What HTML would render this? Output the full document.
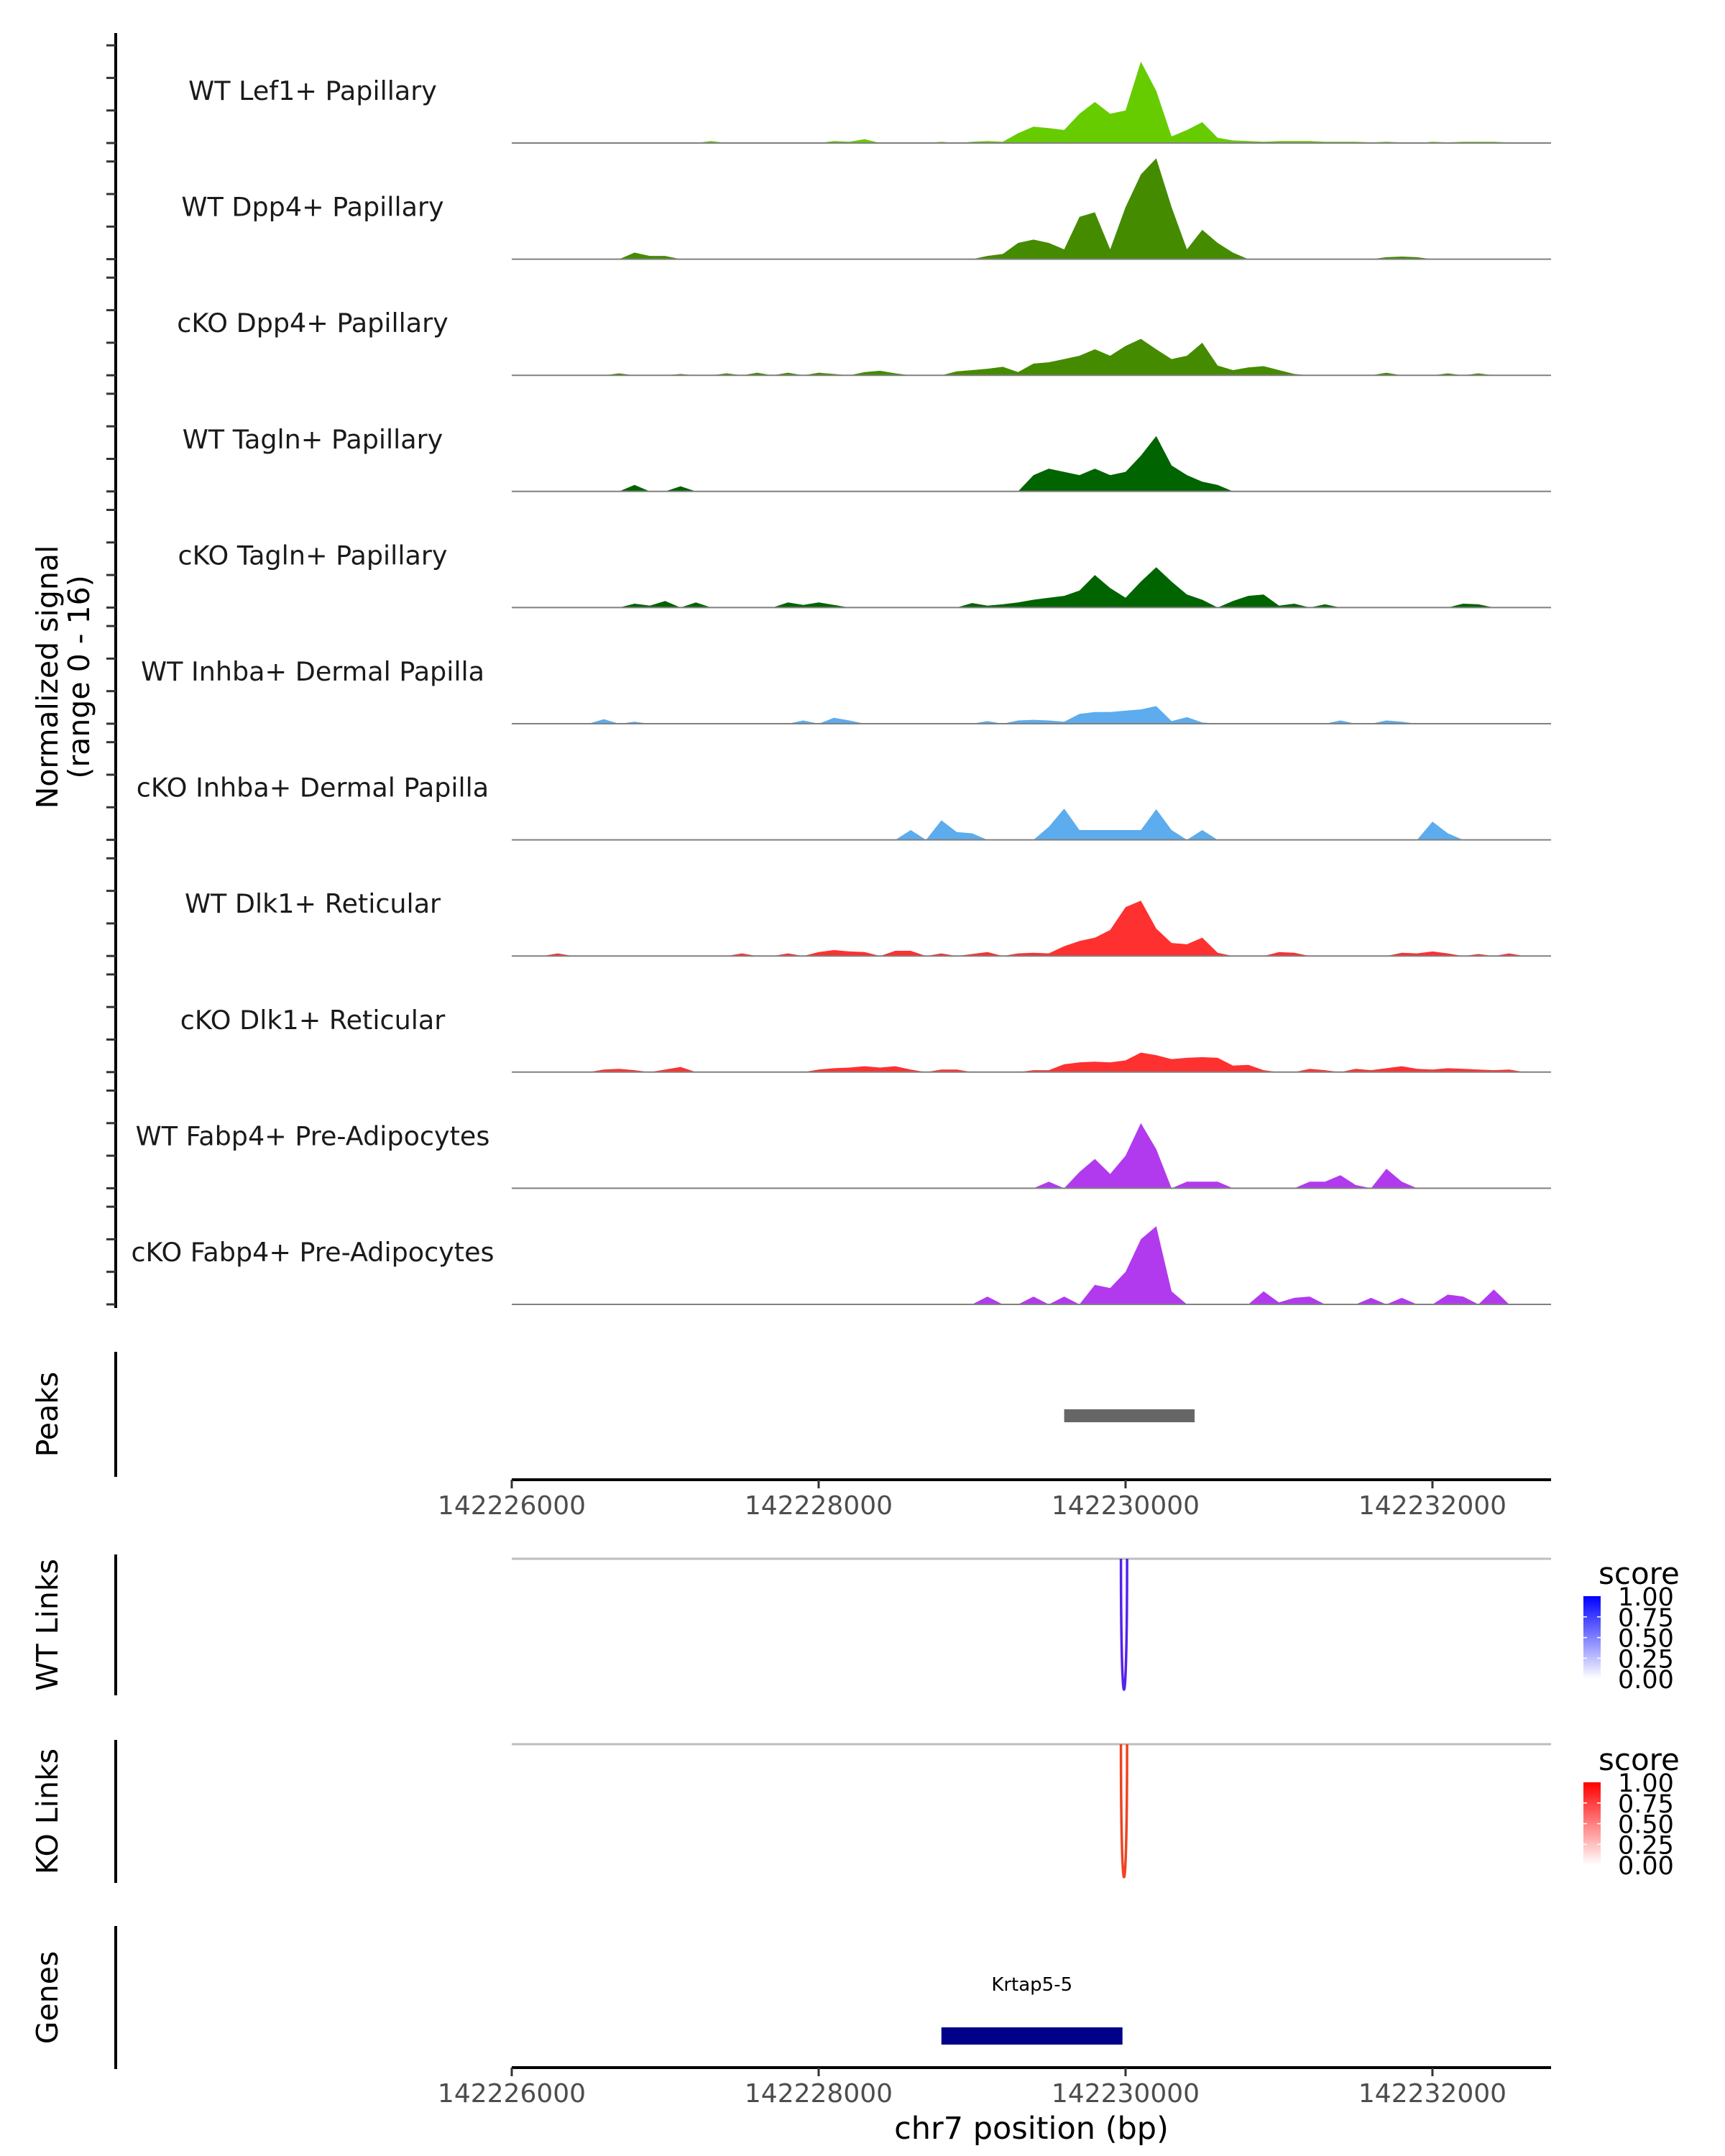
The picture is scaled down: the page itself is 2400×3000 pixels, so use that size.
<!DOCTYPE html>
<html><head><meta charset="utf-8"><style>
body{margin:0;background:#fff}
svg{display:block;font-family:"DejaVu Sans","Liberation Sans",sans-serif}
</style></head><body>
<svg id="chart" width="2400" height="3000" viewBox="0 0 2400 3000" xmlns="http://www.w3.org/2000/svg"></svg>
<script>
const trackNames=["WT Lef1+ Papillary","WT Dpp4+ Papillary","cKO Dpp4+ Papillary","WT Tagln+ Papillary","cKO Tagln+ Papillary","WT Inhba+ Dermal Papilla","cKO Inhba+ Dermal Papilla","WT Dlk1+ Reticular","cKO Dlk1+ Reticular","WT Fabp4+ Pre-Adipocytes","cKO Fabp4+ Pre-Adipocytes"];
const trackColors=["#66CC00","#458B00","#458B00","#006400","#006400","#5CACEE","#5CACEE","#FF3030","#FF3030","#B23AEE","#B23AEE"];
const binStart=142226000, binSize=100;
function sp(o){const a=new Array(68).fill(0);for(const k in o)a[+k]=o[k];return a;}
const sigLef1WT=sp({3:0.1,13:0.3,21:0.3,22:0.2,23:0.6,28:0.2,30:0.2,31:0.3,32:0.2,33:1.5,34:2.5,35:2.3,36:2.0,37:4.5,38:6.3,39:4.5,40:5.0,41:12.5,42:8,43:1,44:2,45:3.2,46:0.8,47:0.4,48:0.3,49:0.2,50:0.3,51:0.3,52:0.3,53:0.2,54:0.2,55:0.2,56:0.1,57:0.2,58:0.1,60:0.2,61:0.1,62:0.2,63:0.2,64:0.2,65:0.1});
const sigDpp4WT=sp({8:1.0,9:0.5,10:0.5,31:0.5,32:0.8,33:2.5,34:3,35:2.5,36:1.5,37:6.5,38:7.2,39:1.5,40:8,41:13,42:15.5,43:8,44:1.5,45:4.5,46:2.5,47:1,57:0.3,58:0.4,59:0.3});
const sigDpp4KO=sp({7:0.3,11:0.2,14:0.3,16:0.4,18:0.4,20:0.4,21:0.2,23:0.5,24:0.7,25:0.3,29:0.6,30:0.8,31:1.0,32:1.3,33:0.5,34:1.8,35:2.0,36:2.5,37:3.0,38:4.0,39:3,40:4.5,41:5.6,42:4,43:2.5,44:3.0,45:5,46:1.5,47:0.8,48:1.2,49:1.4,50:0.8,51:0.2,57:0.4,61:0.3,63:0.3});
const sigTaglnWT=sp({8:1.0,11:0.8,34:2.5,35:3.5,36:3,37:2.5,38:3.5,39:2.5,40:3,41:5.5,42:8.5,43:4,44:2.5,45:1.5,46:1});
const sigTaglnKO=sp({8:0.6,9:0.3,10:1.0,12:0.8,18:0.8,19:0.4,20:0.8,21:0.4,30:0.7,31:0.3,32:0.5,33:0.8,34:1.2,35:1.5,36:1.8,37:2.6,38:5,39:3,40:1.5,41:4,42:6.2,43:4,44:2,45:1.2,47:1.0,48:1.8,49:2,50:0.3,51:0.6,53:0.5,62:0.6,63:0.5});
const sigInhbaWT=sp({6:0.7,8:0.3,19:0.5,21:0.9,22:0.5,31:0.4,33:0.5,34:0.6,35:0.5,36:0.3,37:1.5,38:1.8,39:1.8,40:2.0,41:2.2,42:2.7,43:0.4,44:1.0,45:0.2,54:0.5,57:0.5,58:0.3});
const sigInhbaKO=sp({26:1.5,28:3.0,29:1.2,30:1.0,35:2,36:4.8,37:1.5,38:1.5,39:1.5,40:1.5,41:1.5,42:4.7,43:1.5,45:1.5,60:2.8,61:1});
const sigDlk1WT=sp({3:0.4,15:0.4,18:0.4,20:0.6,21:0.9,22:0.7,23:0.6,25:0.8,26:0.8,28:0.4,30:0.3,31:0.6,33:0.4,34:0.5,35:0.4,36:1.5,37:2.3,38:2.8,39:4,40:7.5,41:8.5,42:4.2,43:2,44:1.8,45:2.8,46:0.5,50:0.6,51:0.5,58:0.5,59:0.4,60:0.7,61:0.4,63:0.3,65:0.4});
const sigDlk1KO=sp({6:0.4,7:0.5,8:0.3,10:0.4,11:0.8,20:0.4,21:0.6,22:0.7,23:0.9,24:0.7,25:0.9,26:0.4,28:0.4,29:0.4,34:0.3,35:0.3,36:1.2,37:1.5,38:1.6,39:1.5,40:1.8,41:3.0,42:2.6,43:2.0,44:2.2,45:2.3,46:2.2,47:1,48:1.1,49:0.3,52:0.5,53:0.3,55:0.5,56:0.3,57:0.6,58:0.9,59:0.5,60:0.4,61:0.6,62:0.5,63:0.4,64:0.3,65:0.4});
const sigFabp4WT=sp({35:1,37:2.5,38:4.5,39:2.2,40:5,41:10,42:6,44:1,45:1,46:1,52:1,53:1,54:2,55:0.5,57:3,58:1});
const sigFabp4KO=sp({31:1.2,34:1.2,36:1.2,38:3,39:2.5,40:5,41:10,42:12,43:2,49:2,50:0.3,51:1,52:1.2,56:1,58:1,61:1.5,62:1.2,64:2.3});
const signals=[sigLef1WT,sigDpp4WT,sigDpp4KO,sigTaglnWT,sigTaglnKO,sigInhbaWT,sigInhbaKO,sigDlk1WT,sigDlk1KO,sigFabp4WT,sigFabp4KO];
const xTicks=[142226000,142228000,142230000,142232000];
const peakRanges=[[142229600,142230450]];
const wtLinks=[[142229970,142230010,1.0]];
const koLinks=[[142229970,142230010,0.9]];
const genes=[{name:"Krtap5-5",start:142228800,end:142229980}];
const legendTicks=["1.00","0.75","0.50","0.25","0.00"];

const NS="http://www.w3.org/2000/svg";
const svg=document.getElementById("chart");
const X0=712,X1=2158,D0=142226000,D1=142232773;
const xs=bp=>X0+(bp-D0)*(X1-X0)/(D1-D0);
const ys=v=>v*9.06;
function el(tag,attrs,parent,text){const e=document.createElementNS(NS,tag);for(const k in attrs)e.setAttribute(k,attrs[k]);if(text!==undefined)e.textContent=text;(parent||svg).appendChild(e);return e;}

let ax=el("line",{x1:161,x2:161,y1:46,y2:1820,stroke:"#000","stroke-width":4});


const t0=el("text",{x:0,y:0,transform:"translate(80,942) rotate(-90)","text-anchor":"middle","font-size":41},svg,"Normalized signal");


const t1=el("text",{x:0,y:0,transform:"translate(124,942) rotate(-90)","text-anchor":"middle","font-size":41},svg,"(range 0 - 16)");



trackNames.forEach((nm,ti)=>{
  const base=199+ti*161.6;
  const g=el("g",{});
  
  
  [0,5,10,15].forEach(v=>{const tk=el("line",{x1:148,x2:161,y1:base-ys(v),y2:base-ys(v),stroke:"#333","stroke-width":3},g);
    
    });
  const d=signals[ti];
  let p="M"+xs(binStart)+","+base;
  d.forEach((v,i)=>{p+=" L"+xs(binStart+i*binSize).toFixed(1)+","+(base-ys(v)).toFixed(1);});
  p+=" L"+xs(binStart+(d.length-1)*binSize)+","+base+" Z";
  const a=el("path",{d:p,fill:trackColors[ti]},g);
  
  
  const bl=el("line",{x1:X0,x2:X1,y1:base,y2:base,stroke:"#808080","stroke-width":2},g);
  
  
  const lb=el("text",{x:435,y:base-60,"text-anchor":"middle","font-size":36.5,fill:"#1a1a1a"},g,nm);
  
  
});

function sideAxis(y1,y2,label,name){
  const l=el("line",{x1:161,x2:161,y1:y1,y2:y2,stroke:"#000","stroke-width":4});
  
  
  const t=el("text",{x:0,y:0,transform:`translate(80,${(y1+y2)/2}) rotate(-90)`,"text-anchor":"middle","font-size":41},svg,label);
  
  
}
function xAxis(y,name){
  const g=el("g",{});
  
  
  el("line",{x1:X0,x2:X1,y1:y,y2:y,stroke:"#000","stroke-width":4},g);
  xTicks.forEach(t=>{el("line",{x1:xs(t),x2:xs(t),y1:y,y2:y+12,stroke:"#333","stroke-width":3},g);
    const tl=el("text",{x:xs(t),y:y+48,"text-anchor":"middle","font-size":36,fill:"#4d4d4d"},g,String(t));
    
    });
}
sideAxis(1881,2055,"Peaks","peaks");
peakRanges.forEach(r=>{const b=el("rect",{x:xs(r[0]),y:1961,width:xs(r[1])-xs(r[0]),height:18,fill:"#666"});
  
  });
xAxis(2059,"peaks-x-axis");

function links(top,bottom,label,name,data,c0,c1,legY){
  sideAxis(top-6,bottom+8,label,name);
  const gl=el("line",{x1:X0,x2:X1,y1:top,y2:top,stroke:"#bdbdbd","stroke-width":3});
  
  
  data.forEach(d=>{const a=xs(d[0]),b=xs(d[1]);const depth=(bottom-top)*4/3;
    const p=el("path",{d:`M${a},${top} C${a},${top+depth} ${b},${top+depth} ${b},${top}`,fill:"none",stroke:c0,"stroke-width":3.5});
    
    });
  const lg=el("g",{});
  
  
  el("text",{x:2224,y:legY,"font-size":42,fill:"#000"},lg,"score");
  const gid="g"+name;
  const defs=el("defs",{},lg);
  const gr=el("linearGradient",{id:gid,x1:0,y1:0,x2:0,y2:1},defs);
  el("stop",{offset:0,"stop-color":c1},gr);el("stop",{offset:1,"stop-color":"#fff"},gr);
  const by=legY+17;
  el("rect",{x:2203,y:by,width:24,height:115,fill:`url(#${gid})`},lg);
  legendTicks.forEach((t,i)=>{const yy=by+i*28.8;
    if(i>0&&i<4){el("line",{x1:2203,x2:2208,y1:yy,y2:yy,stroke:"#fff","stroke-width":1.5},lg);el("line",{x1:2222,x2:2227,y1:yy,y2:yy,stroke:"#fff","stroke-width":1.5},lg);}
    el("text",{x:2251,y:yy+13,"font-size":35,fill:"#000"},lg,t);});
}
links(2169,2351,"WT Links","wt-links",wtLinks,"#5522EE","#0000FF",2204);
links(2427,2612,"KO Links","ko-links",koLinks,"#EE4422","#FF0000",2463);

sideAxis(2680,2879,"Genes","genes");
genes.forEach(g=>{const r=el("rect",{x:xs(g.start),y:2821,width:xs(g.end)-xs(g.start),height:24,fill:"#00008B"});
  
  
  const t=el("text",{x:(xs(g.start)+xs(g.end))/2,y:2770,"text-anchor":"middle","font-size":26,fill:"#000"},svg,g.name);
  
  });
xAxis(2877,"genes-x-axis");
const xt=el("text",{x:1435,y:2976,"text-anchor":"middle","font-size":43,fill:"#000"},svg,"chr7 position (bp)");


</script>
</body></html>
